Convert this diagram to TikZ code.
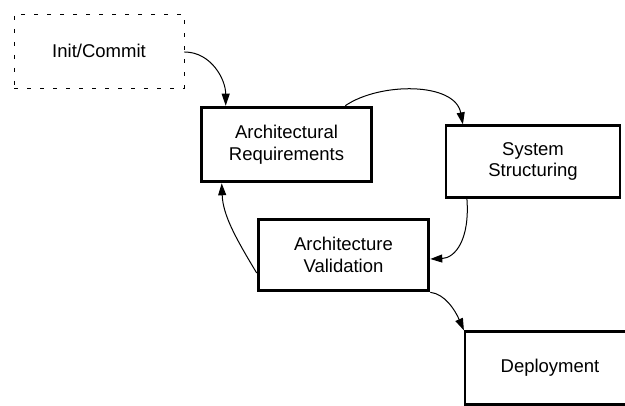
\documentclass[tikz,border=0pt]{standalone}
\usepackage{fontspec}
\setmainfont{Liberation Sans}
\usetikzlibrary{arrows.meta,positioning}
\begin{document}
\begin{tikzpicture}[x=1pt,y=-1pt,
  box/.style={rectangle,draw=black,align=center,inner sep=0pt,font=\fontsize{18.5}{21.5}\selectfont},
  thickbox/.style={box,line width=3.6pt},
  medbox/.style={box,line width=2.2pt},
  dashbox/.style={box,line width=0.9pt,dash pattern=on 4pt off 9pt},
  flow/.style={line width=1pt,-{Triangle[length=12pt,width=8pt]}}]
\useasboundingbox (0,0) rectangle (625,406);
\node[dashbox,minimum width=170pt,minimum height=74pt] (init) at (99,51) {Init/Commit};
\node[thickbox,minimum width=170pt,minimum height=74pt] (req) at (286.5,144.5) {Architectural\\Requirements};
\node[medbox,minimum width=174pt,minimum height=72pt] (sys) at (533,161.5) {System\\Structuring};
\node[thickbox,minimum width=170pt,minimum height=71pt] (val) at (343.5,255) {Architecture\\Validation};
\node[medbox,minimum width=170pt,minimum height=73pt] (dep) at (550,368) {Deployment};
\draw[flow] ([yshift=-1pt]init.east) to[out=0,in=90] ([xshift=26pt]req.north west);
\draw[flow] ([xshift=-28pt]req.north east) .. controls (380,82) and (455,82) .. ([xshift=18pt]sys.north west);
\draw[flow] ([xshift=22pt]sys.south west) .. controls (470,240) and (455,258) .. ([yshift=-4pt]val.east);
\draw[flow] ([yshift=-18pt]val.west) .. controls (235,237) and (223,215) .. ([xshift=22pt]req.south west);
\draw[flow] (val.south east) .. controls (445,294) and (455,310) .. (dep.north west);
\end{tikzpicture}
\end{document}
